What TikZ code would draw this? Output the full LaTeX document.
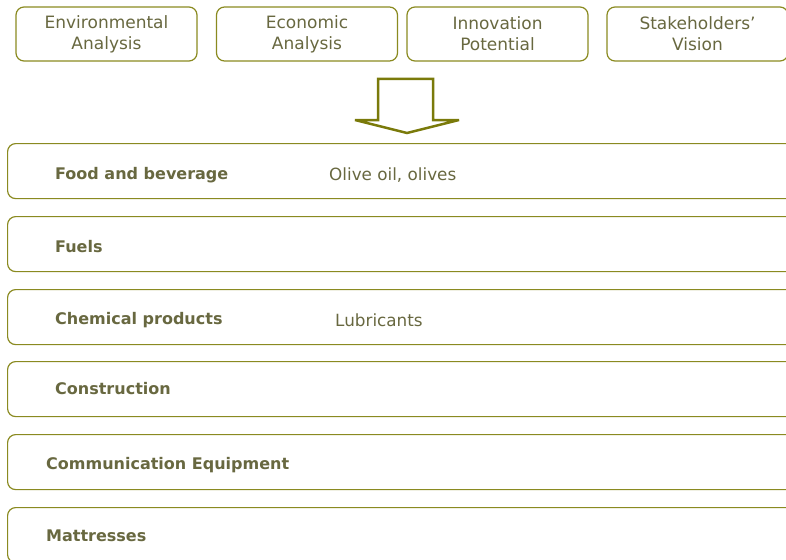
\documentclass[tikz,border=0pt]{standalone}
\usepackage{fontspec}
\setmainfont{DejaVu Sans}
\usepackage{xcolor}
\usetikzlibrary{positioning}

\definecolor{olive}{RGB}{138,138,32}
\definecolor{arrowcol}{RGB}{122,122,10}
\definecolor{txt}{RGB}{104,104,64}

\tikzset{
    topbox/.style={draw=olive, rounded corners=8pt, line width=1.2pt, minimum width=181pt,
        minimum height=54pt, align=center, text=txt, font=\fontsize{17}{21}\selectfont},
    rowbox/.style={draw=olive, rounded corners=8pt, line width=1.2pt, minimum width=820pt,
        minimum height=55pt, anchor=north west},
    sector/.style={anchor=west, text=txt, font=\bfseries\fontsize{16}{19}\selectfont, inner sep=0pt},
    product/.style={anchor=west, text=txt, font=\fontsize{16.8}{19}\selectfont, inner sep=0pt}
}

\begin{document}
\begin{tikzpicture}[x=1pt, y=-1pt]
    \useasboundingbox (0, 0) rectangle (786, 559);
    \clip (0, 0) rectangle (786, 559);

    \node[topbox] (env) at (106.5, 34) {Environmental\\Analysis};
    \node[topbox] (eco) at (307, 34) {Economic\\Analysis};
    \node[topbox] (inn) at (497.5, 34) {Innovation\\Potential};
    \node[topbox] (sta) at (697.5, 34) {Stakeholders'\\Vision};

    \draw[arrowcol, line width=2.5pt, line join=miter, miter limit=3]
        (378, 79) -- (433, 79) -- (433, 120) -- (459, 120) -- (407, 133)
        -- (355, 120) -- (378, 120) -- cycle;

    \node[rowbox] (food) at (7, 143) {};
    \node[rowbox] (fuel) at (7, 216) {};
    \node[rowbox] (chem) at (7, 289) {};
    \node[rowbox] (cons) at (7, 361) {};
    \node[rowbox] (comm) at (7, 434) {};
    \node[rowbox] (matt) at (7, 507) {};

    \node[sector] (foodtxt) at (55, 175) {Food and beverage};
    \node[product] (oil) at (329, 175) {Olive oil, olives};
    \node[sector] (fueltxt) at (55, 247) {Fuels};
    \node[sector] (chemtxt) at (55, 320) {Chemical products};
    \node[product] (lub) at (335, 320) {Lubricants};
    \node[sector] (constxt) at (55, 389) {Construction};
    \node[sector] (commtxt) at (46, 465) {Communication Equipment};
    \node[sector] (matttxt) at (46, 536) {Mattresses};

\end{tikzpicture}
\end{document}
